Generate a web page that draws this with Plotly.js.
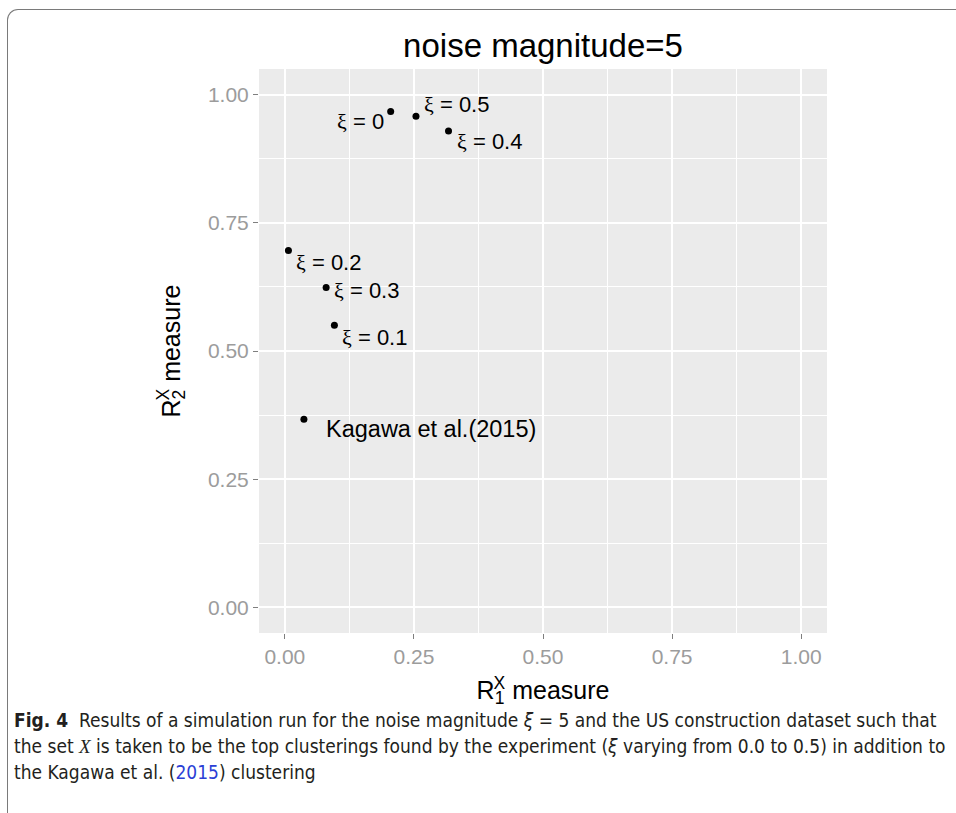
<!DOCTYPE html>
<html>
<head>
<meta charset="utf-8">
<script src="https://cdn.plot.ly/plotly-3.0.1.min.js"></script>
<style>
  html, body { margin: 0; padding: 0; background: #ffffff; }
  #frame { position: absolute; left: 7px; top: 9px; width: 1000px; height: 900px;
           border-top: 1.6px solid #7a7a7a; border-left: 1.6px solid #7a7a7a;
           border-top-left-radius: 11px; box-sizing: border-box; }
  #chart { position: absolute; left: 0; top: 0; width: 956px; height: 813px; }
</style>
</head>
<body>
<div id="frame"></div>
<div id="chart"></div>
<script>
// ---- data ----
const pointLabels = ['ξ = 0', 'ξ = 0.1', 'ξ = 0.2', 'ξ = 0.3', 'ξ = 0.4', 'ξ = 0.5', 'Kagawa et al.(2015)'];
const r1Measure = [0.205, 0.096, 0.007, 0.080, 0.317, 0.254, 0.037];
const r2Measure = [0.967, 0.550, 0.696, 0.624, 0.929, 0.958, 0.367];
const tickVals = [0, 0.25, 0.5, 0.75, 1];
const tickText = ['0.00', '0.25', '0.50', '0.75', '1.00'];
const chartTitle = 'noise magnitude=5';
const captionLines = [
  "<b>Fig. 4</b>  Results of a simulation run for the noise magnitude <i>ξ</i> = 5 and the US construction dataset such that",
  "the set <i><span style='font-family:Liberation Serif'>X</span></i> is taken to be the top clusterings found by the experiment (<i>ξ</i> varying from 0.0 to 0.5) in addition to",
  "the Kagawa et al. (<span style='color:#2b3fd6'>2015</span>) clustering"
];

// label placement (pixel offsets from each point, text-repel style)
const labelPlacement = [
  {xanchor: 'right', xshift: -5, yshift: -10},
  {xanchor: 'left',  xshift: 6,  yshift: -12},
  {xanchor: 'left',  xshift: 6,  yshift: -12},
  {xanchor: 'left',  xshift: 6,  yshift: -3},
  {xanchor: 'left',  xshift: 6,  yshift: -10},
  {xanchor: 'left',  xshift: 6,  yshift: 12},
  {xanchor: 'left',  xshift: 20, yshift: -10}
];

const W = 956, H = 813;
const M = {l: 259, r: 129, t: 69, b: 180};
const plotW = W - M.l - M.r;
function pxToPaperX(px) { return (px - M.l) / plotW; }
function pxToPaperY(py) { return (H - M.b - py) / (H - M.t - M.b); }

function fmtLabel(s) {
  return s.replace('ξ', "<span style='font-family:Liberation Serif, DejaVu Serif, serif'>ξ</span>");
}

const annotations = pointLabels.map((lab, i) => ({
  x: r1Measure[i], y: r2Measure[i], xref: 'x', yref: 'y',
  text: fmtLabel(lab), showarrow: false,
  xanchor: labelPlacement[i].xanchor, yanchor: 'middle',
  xshift: labelPlacement[i].xshift, yshift: labelPlacement[i].yshift,
  font: {family: 'Liberation Sans, Arial, sans-serif', size: i === 6 ? 23.5 : 22, color: '#000000'}
}));

const captionY = [720, 746, 772];
captionLines.forEach((t, i) => {
  annotations.push({
    x: pxToPaperX(12), y: pxToPaperY(captionY[i]), xref: 'paper', yref: 'paper',
    text: t, showarrow: false, xanchor: 'left', yanchor: 'middle',
    font: {family: 'Liberation Sans Narrow, DejaVu Sans Condensed, Arial Narrow, sans-serif', size: 19, color: '#231f20'}
  });
});

const trace = {
  x: r1Measure, y: r2Measure, mode: 'markers', type: 'scatter',
  marker: {color: '#000000', size: 7},
  text: pointLabels, hoverinfo: 'text+x+y', cliponaxis: false
};

const axisCommon = {
  range: [-0.05, 1.05], tickvals: tickVals, ticktext: tickText,
  showgrid: true, gridcolor: '#ffffff', gridwidth: 2,
  minor: {tickvals: [0.125, 0.375, 0.625, 0.875], showgrid: true, gridcolor: '#ffffff', gridwidth: 0.8, ticks: ''},
  zeroline: false, showline: false,
  ticks: 'outside', ticklen: 5, tickwidth: 1.3, tickcolor: '#7f7f7f',
  tickfont: {family: 'Liberation Sans, Arial, sans-serif', size: 21, color: '#9c9c9c'},
  fixedrange: true
};

const layout = {
  width: W, height: H,
  margin: M,
  paper_bgcolor: 'rgba(0,0,0,0)',
  plot_bgcolor: '#ebebeb',
  showlegend: false,
  title: {text: chartTitle, x: 0.5, xref: 'paper', y: 1 - 45 / H, yref: 'container', yanchor: 'middle',
          font: {family: 'Liberation Sans, Arial, sans-serif', size: 33, color: '#000000'}},
  xaxis: Object.assign({}, axisCommon, {
    title: {text: "R<sub><span style='letter-spacing:-0.62em'>1</span></sub><sup>X</sup> measure",
            standoff: 14, font: {family: 'Liberation Sans, Arial, sans-serif', size: 25, color: '#000000'}}
  }),
  yaxis: Object.assign({}, axisCommon, {
    title: {text: "R<sub><span style='letter-spacing:-0.62em'>2</span></sub><sup>X</sup> measure",
            standoff: 20, font: {family: 'Liberation Sans, Arial, sans-serif', size: 25, color: '#000000'}}
  }),
  annotations: annotations
};

Plotly.newPlot('chart', [trace], layout, {displayModeBar: false, staticPlot: false});
</script>
</body>
</html>
